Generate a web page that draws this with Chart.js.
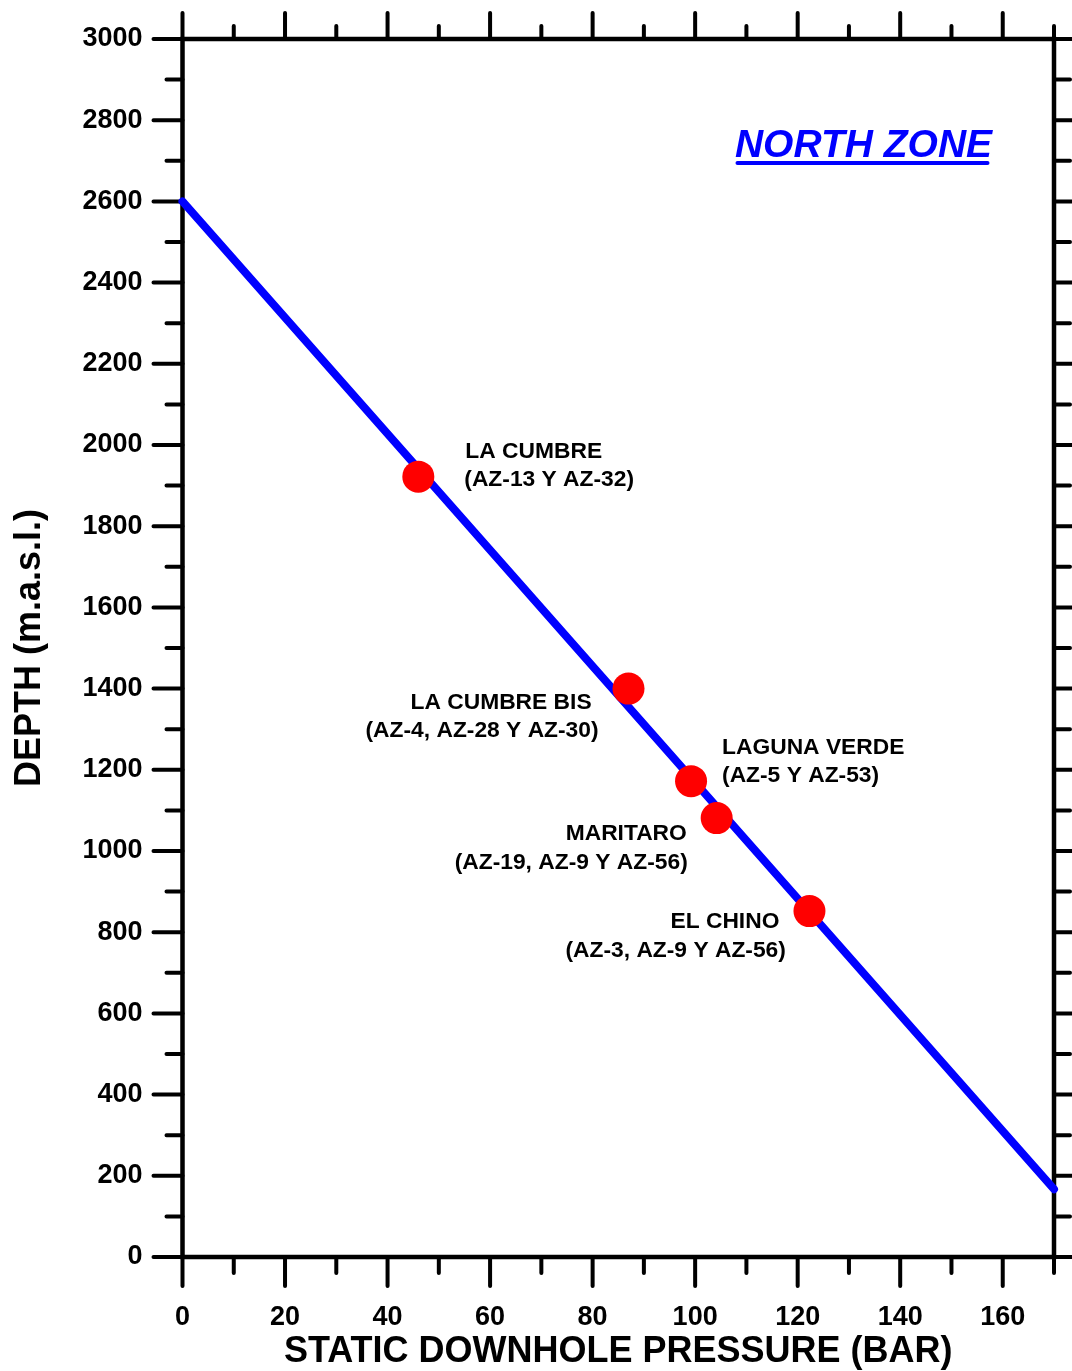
<!DOCTYPE html>
<html>
<head>
<meta charset="utf-8">
<title>North Zone – static downhole pressure vs depth</title>
<script src="https://cdn.jsdelivr.net/npm/chart.js@4/dist/chart.umd.min.js"></script>
<style>
  html, body { margin: 0; padding: 0; background: #ffffff; }
  #wrap { width: 1072px; height: 1371px; position: relative; }
</style>
</head>
<body>
<div id="wrap"><canvas id="c" width="1072" height="1371"></canvas></div>
<script>
// Hydrostatic trend line (pressure in bar, elevation in m.a.s.l.)
const trendPressure = [0, 170];
const trendDepth = [2600, 167];

// Well groups plotted on the trend
const wellGroups = ['LA CUMBRE', 'LA CUMBRE BIS', 'LAGUNA VERDE', 'MARITARO', 'EL CHINO'];
const wellNames = ['(AZ-13 Y AZ-32)', '(AZ-4, AZ-28 Y AZ-30)', '(AZ-5 Y AZ-53)', '(AZ-19, AZ-9 Y AZ-56)', '(AZ-3, AZ-9 Y AZ-56)'];
const wellPressure = [46, 87, 99.2, 104.2, 122.3];
const wellDepth = [1922, 1400, 1172, 1081, 852];

// Labelled tick values
const xTickLabels = [0, 20, 40, 60, 80, 100, 120, 140, 160];
const yTickLabels = [0, 200, 400, 600, 800, 1000, 1200, 1400, 1600, 1800, 2000, 2200, 2400, 2600, 2800, 3000];

const FONT = '"Liberation Sans", Arial, Helvetica, sans-serif';

// Label placement around each well marker (pixel offsets: [dx, dy] for name line, [dx, dy] for wells line)
const labelOffsets = [
  [[47, -25], [46, 3]],
  [[-218, 14], [-263, 42]],
  [[31, -33], [31, -5]],
  [[-151, 16], [-262, 45]],
  [[-139, 11], [-244, 40]]
];

// Frame around the plot area plus major/minor tick marks on all four sides
const frameTicks = {
  id: 'frameTicks',
  beforeDatasetsDraw(chart) {
    const { ctx, chartArea: a, scales } = chart;
    ctx.save();
    ctx.strokeStyle = '#000';
    ctx.lineCap = 'round';
    ctx.lineWidth = 4;
    scales.x.ticks.forEach(t => {
      const px = scales.x.getPixelForValue(t.value);
      const major = xTickLabels.includes(t.value);
      ctx.beginPath();
      ctx.moveTo(px, a.bottom);
      ctx.lineTo(px, a.bottom + (major ? 29 : 16));
      ctx.moveTo(px, a.top);
      ctx.lineTo(px, a.top - (major ? 26 : 13));
      ctx.stroke();
    });
    scales.y.ticks.forEach(t => {
      const py = scales.y.getPixelForValue(t.value);
      const major = yTickLabels.includes(t.value);
      ctx.beginPath();
      ctx.moveTo(a.left, py);
      ctx.lineTo(a.left - (major ? 29 : 16), py);
      ctx.moveTo(a.right, py);
      ctx.lineTo(a.right + (major ? 29 : 16), py);
      ctx.stroke();
    });
    ctx.lineCap = 'butt';
    ctx.lineWidth = 4.5;
    ctx.strokeRect(a.left, a.top, a.right - a.left, a.bottom - a.top);
    ctx.restore();
  }
};

// Well labels and the zone heading
const annotations = {
  id: 'annotations',
  afterDatasetsDraw(chart) {
    const { ctx, chartArea: a, scales } = chart;
    ctx.save();
    ctx.fillStyle = '#000';
    ctx.textAlign = 'left';
    ctx.textBaseline = 'middle';
    ctx.font = 'bold 22.8px ' + FONT;
    wellGroups.forEach((g, i) => {
      const px = scales.x.getPixelForValue(wellPressure[i]);
      const py = scales.y.getPixelForValue(wellDepth[i]);
      const [o1, o2] = labelOffsets[i];
      ctx.fillText(g, px + o1[0], py + o1[1]);
      ctx.fillText(wellNames[i], px + o2[0], py + o2[1]);
    });

    // Heading
    ctx.fillStyle = '#0000ff';
    ctx.strokeStyle = '#0000ff';
    ctx.font = 'italic bold 39px ' + FONT;
    ctx.textAlign = 'center';
    ctx.textBaseline = 'alphabetic';
    const hx = a.left + 681;
    const hy = a.top + 118;
    ctx.fillText('NORTH ZONE', hx, hy);
    ctx.lineWidth = 4;
    ctx.lineCap = 'round';
    ctx.beginPath();
    ctx.moveTo(hx - 126, hy + 6);
    ctx.lineTo(hx + 124, hy + 6);
    ctx.stroke();
    ctx.restore();
  }
};

const tickFont = { family: FONT, size: 27, weight: 'bold' };
const titleFont = { family: FONT, size: 36, weight: 'bold', lineHeight: 1.05 };

new Chart(document.getElementById('c'), {
  type: 'scatter',
  data: {
    datasets: [
      {
        label: 'Wells',
        data: wellPressure.map((p, i) => ({ x: p, y: wellDepth[i] })),
        pointRadius: 16,
        pointHoverRadius: 16,
        pointBackgroundColor: '#ff0000',
        pointBorderWidth: 0,
        showLine: false,
        clip: false
      },
      {
        label: 'Trend',
        data: trendPressure.map((p, i) => ({ x: p, y: trendDepth[i] })),
        showLine: true,
        borderColor: '#0000ff',
        borderWidth: 8,
        borderCapStyle: 'round',
        pointRadius: 0,
        pointHoverRadius: 0,
        clip: false
      }
    ]
  },
  options: {
    responsive: false,
    animation: false,
    devicePixelRatio: 1,
    layout: { padding: { left: 0, top: 39, right: 18, bottom: 0 } },
    plugins: {
      legend: { display: false },
      tooltip: { enabled: false },
      title: { display: false }
    },
    scales: {
      x: {
        type: 'linear',
        position: 'bottom',
        min: 0,
        max: 170,
        grid: { display: false, drawTicks: false },
        border: { display: false },
        ticks: {
          stepSize: 10,
          autoSkip: false,
          maxRotation: 0,
          minRotation: 0,
          padding: 44,
          color: '#000',
          font: tickFont,
          callback: v => xTickLabels.includes(v) ? String(v) : ''
        },
        title: {
          display: true,
          text: 'STATIC DOWNHOLE PRESSURE (BAR)',
          color: '#000',
          font: titleFont,
          padding: { top: 0, bottom: 0 }
        },
        afterFit: s => {
          s.height = 114;
          s.paddingLeft = 0;
          s.paddingRight = 0;
        }
      },
      y: {
        type: 'linear',
        position: 'left',
        min: 0,
        max: 3000,
        grid: { display: false, drawTicks: false },
        border: { display: false },
        ticks: {
          stepSize: 100,
          autoSkip: false,
          padding: 40,
          color: '#000',
          font: tickFont,
          callback: v => yTickLabels.includes(v) ? String(v) : ''
        },
        title: {
          display: true,
          text: 'DEPTH (m.a.s.l.)',
          color: '#000',
          font: { family: FONT, size: 36, weight: 'bold' },
          padding: { top: 8, bottom: 0 }
        },
        afterFit: s => {
          s.width = 182.5;
          s.paddingTop = 0;
          s.paddingBottom = 0;
        }
      }
    }
  },
  plugins: [frameTicks, annotations]
});
</script>
</body>
</html>
